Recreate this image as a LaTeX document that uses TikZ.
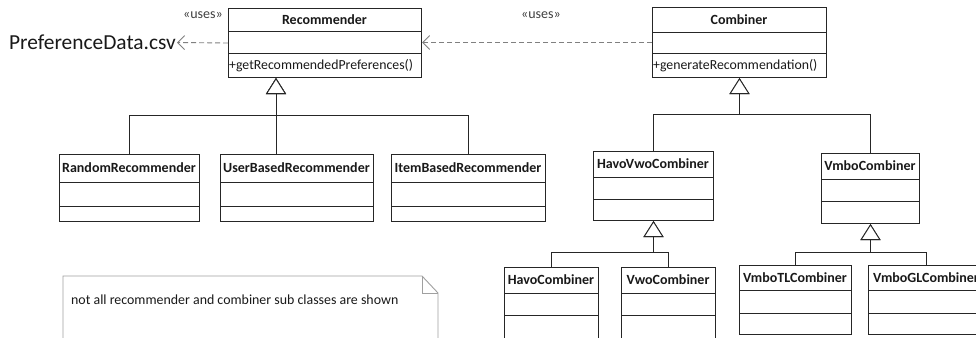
\documentclass[tikz,border=0pt]{standalone}
\usepackage{fontspec}
\setmainfont{Carlito}
\usetikzlibrary{arrows.meta}
\definecolor{depgray}{HTML}{808080}
\definecolor{notegray}{HTML}{A0A0A0}
\tikzset{
  classframe/.style={draw=black!85, line width=1pt, inner sep=0pt},
  rowline/.style={draw=black!85, line width=1pt},
  classtitle/.style={font=\fontsize{14}{15}\selectfont\bfseries, inner sep=0pt, text=black!90},
  classop/.style={font=\fontsize{13.8}{15}\selectfont, inner sep=1pt, anchor=west, text=black!90},
  inh/.style={draw=black!85, line width=0.9pt, -{Triangle[length=16pt,width=20pt,fill=white,line width=0.9pt]}},
  dep/.style={draw=depgray, line width=0.9pt, dash pattern=on 5pt off 3pt, -{Straight Barb[length=7pt,width=14pt,line width=0.9pt]}},
  stereo/.style={font=\fontsize{14}{15}\selectfont, text=black!75, inner sep=0pt},
}
\newcommand\umlclass[8]{% name, x1, y1, x2, y2, ytitle, yrow, title
  \node[classframe, anchor=north west, minimum width={(#4-#2)*1pt}, minimum height={(#5-#3)*1pt}] (#1) at (#2,#3) {};
  \draw[rowline] (#2,#6) -- (#4,#6) (#2,#7) -- (#4,#7);
  \node[classtitle] (#1-title) at ({(#2+#4)/2},{(#3+#6)/2}) {#8};
}
\begin{document}
\begin{tikzpicture}[x=1pt,y=-1pt]
\useasboundingbox (0,0) rectangle (976,337);
\fill[white] (0,0) rectangle (976,337);
\clip (0,0) rectangle (976,337);

% classes
\umlclass{rec}{228}{8}{421}{77}{32}{54}{Recommender}
\node[classop] (rec-op) at (228,65.5) {+getRecommendedPreferences()};
\umlclass{comb}{652}{7}{826}{77}{33}{54}{Combiner}
\node[classop] (comb-op) at (652,65.5) {+generateRecommendation()};

\umlclass{rand}{59}{154}{199}{221}{182}{206}{RandomRecommender}
\umlclass{user}{220}{154}{373}{221}{182}{206}{UserBasedRecommender}
\umlclass{item}{391}{154}{545}{221}{182}{206}{ItemBasedRecommender}

\umlclass{havovwo}{593}{151}{713}{220}{177}{199}{HavoVwoCombiner}
\umlclass{vmbo}{821}{153}{919}{223}{179}{201}{VmboCombiner}

\umlclass{havo}{504}{267}{598}{360}{293}{315}{HavoCombiner}
\umlclass{vwo}{621}{267}{715}{360}{293}{315}{VwoCombiner}
\umlclass{vmbotl}{739}{265}{851}{334}{290}{313}{VmboTLCombiner}
\umlclass{vmbogl}{868}{265}{984}{334}{290}{313}{VmboGLCombiner}

% external file and stereotypes
\node[font=\fontsize{21.4}{23}\selectfont, anchor=east, inner sep=1pt, text=black!90] (pref) at (177,42.5) {PreferenceData.csv};
\node[stereo] (uses1) at (203,15) {«uses»};
\node[stereo] (uses2) at (541,15) {«uses»};

% dependencies
\draw[dep] (comb.west) -- (comb.west -| rec.east);
\draw[dep] (rec.west) -- (pref.east);

% generalizations: Recommender
\coordinate (recbase) at ([xshift=48pt]rec.south west);
\path (recbase) ++(0,37) coordinate (recbus);
\draw[inh] (rand.north) |- (recbus) -- (recbase);
\draw[inh] (item.north) |- (recbus) -- (recbase);
\draw[inh] (user.north -| recbus) -- (recbase);

% generalizations: Combiner
\path (comb.south) ++(0,36) coordinate (combbus);
\draw[inh] (havovwo.north) |- (combbus) -- (comb.south);
\draw[inh] (vmbo.north) |- (combbus) -- (comb.south);

\path (havovwo.south) ++(0,31) coordinate (hvbus);
\draw[inh] (havo.north) |- (hvbus) -- (havovwo.south);
\draw[inh] (vwo.north) |- (hvbus) -- (havovwo.south);

\path (vmbo.south) ++(0,28) coordinate (vmbus);
\draw[inh] (vmbotl.north) |- (vmbus) -- (vmbo.south);
\draw[inh] (vmbogl.north) |- (vmbus) -- (vmbo.south);

% note
\draw[notegray, line width=0.9pt] (63,350) -- (63,276) -- (422,276) -- (438,293) -- (438,350);
\draw[notegray, line width=0.9pt] (422,276) -- (422,293) -- (438,293);
\node[font=\fontsize{13.9}{15}\selectfont, anchor=west, inner sep=0pt, text=black!90] (notetext) at (71,300) {not all recommender and combiner sub classes are shown};
\end{tikzpicture}
\end{document}
